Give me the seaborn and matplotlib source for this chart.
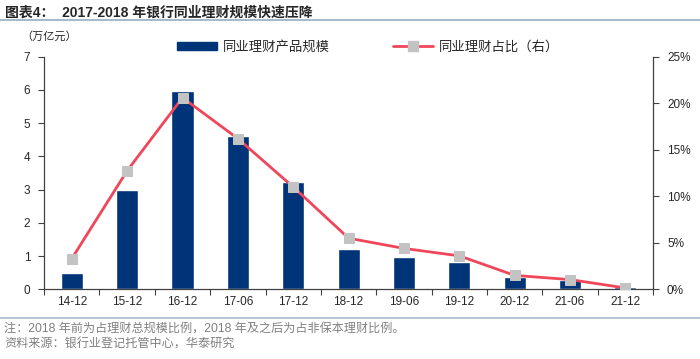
import matplotlib
matplotlib.use("Agg")
import matplotlib.pyplot as plt
import numpy as np
import pandas as pd
import seaborn as sns
from matplotlib.lines import Line2D
from matplotlib.patches import Patch
from matplotlib.ticker import FuncFormatter, MultipleLocator

periods = ["14-12", "15-12", "16-12", "17-06", "17-12", "18-12",
           "19-06", "19-12", "20-12", "21-06", "21-12"]
scale = [0.49, 3.0, 5.97, 4.6, 3.24, 1.2, 0.98, 0.83, 0.38, 0.28, 0.06]
share = [3.3, 12.75, 20.6, 16.2, 11.0, 5.5, 4.4, 3.6, 1.5, 1.05, 0.15]

BAR_COLOR = "#003478"
LINE_COLOR = "#F0465A"
MARKER_COLOR = "#C3C3C3"
RULE_COLOR = "#A9BACB"
TEXT_COLOR = "#262626"
NOTE_COLOR = "#808080"

sns.set_theme(style="white")
plt.rcParams["font.family"] = ["Liberation Sans", "Noto Sans CJK SC", "DejaVu Sans"]
plt.rcParams["axes.unicode_minus"] = False

df = pd.DataFrame({"period": periods, "scale": scale, "share": share})

fig = plt.figure(figsize=(7.0, 3.59), dpi=100)
ax = fig.add_axes([0.063, 0.194, 0.870, 0.648])

sns.barplot(data=df, x="period", y="scale", color=BAR_COLOR, width=0.4,
            saturation=1, ax=ax)
ax.set_xlim(-0.5, len(periods) - 0.5)
ax.set_ylim(0, 7)
ax.yaxis.set_major_locator(MultipleLocator(1))
ax.set_xlabel("")
ax.set_ylabel("")

ax2 = ax.twinx()
sns.lineplot(x=np.arange(len(periods)), y=df["share"], ax=ax2, color=LINE_COLOR,
             linewidth=2, marker="s", markersize=7, markerfacecolor=MARKER_COLOR,
             markeredgecolor=MARKER_COLOR)
ax2.set_ylim(0, 25)
ax2.yaxis.set_major_locator(MultipleLocator(5))
ax2.yaxis.set_major_formatter(FuncFormatter(lambda v, _: f"{v:.0f}%"))
ax2.set_ylabel("")
ax2.set_xlim(-0.5, len(periods) - 0.5)

for a in (ax, ax2):
    a.grid(False)
    a.spines["top"].set_visible(False)
    for s in a.spines.values():
        s.set_color("#404040")
        s.set_linewidth(0.9)
ax.spines["right"].set_visible(False)
ax2.spines["left"].set_visible(False)
ax2.spines["bottom"].set_visible(False)

ax.tick_params(axis="y", which="major", direction="out", length=4, width=0.8,
               color="#404040", labelsize=8.5, labelcolor=TEXT_COLOR, left=True, pad=6)
ax2.tick_params(axis="y", which="major", direction="out", length=4, width=0.8,
                color="#404040", labelsize=8.5, labelcolor=TEXT_COLOR, right=True, pad=6)
ax.set_xticks(np.arange(len(periods)))
ax.set_xticklabels(periods)
ax.set_xticks(np.arange(-0.5, len(periods)), minor=True)
ax.tick_params(axis="x", which="major", length=0, labelsize=8.5, labelcolor=TEXT_COLOR, pad=5)
ax.tick_params(axis="x", which="minor", direction="out", length=4, width=0.8,
               color="#404040", bottom=True)

# legend
handles = [
    Patch(facecolor=BAR_COLOR, edgecolor=BAR_COLOR),
    Line2D([0], [0], color=LINE_COLOR, linewidth=2, marker="s", markersize=7,
           markerfacecolor=MARKER_COLOR, markeredgecolor=MARKER_COLOR),
]
fig.legend(handles, ["同业理财产品规模", "同业理财占比（右）"], loc="center",
           bbox_to_anchor=(0.526, 0.869), ncol=2, frameon=False, fontsize=9.6,
           handlelength=3.0, handleheight=0.55, columnspacing=4.7, handletextpad=0.45)

# header, unit, footer
fig.text(0.007, 0.965, "图表4：  2017-2018 年银行同业理财规模快速压降", fontsize=10,
         fontweight="bold", color=TEXT_COLOR, va="center", ha="left")
fig.add_artist(Line2D([0.0, 1.0], [0.944, 0.944], color=RULE_COLOR, linewidth=1.5))
fig.text(0.03, 0.897, "（万亿元）", fontsize=8, color=TEXT_COLOR, va="center", ha="left")
fig.add_artist(Line2D([0.0, 1.0], [0.114, 0.114], color=RULE_COLOR, linewidth=1.2))
fig.text(0.006, 0.084, "注：2018 年前为占理财总规模比例，2018 年及之后为占非保本理财比例。",
         fontsize=8.7, color=NOTE_COLOR, va="center", ha="left")
fig.text(0.006, 0.039, "资料来源：银行业登记托管中心，华泰研究",
         fontsize=8.7, color=NOTE_COLOR, va="center", ha="left")

fig.savefig("out.png", dpi=100)
plt.close(fig)
